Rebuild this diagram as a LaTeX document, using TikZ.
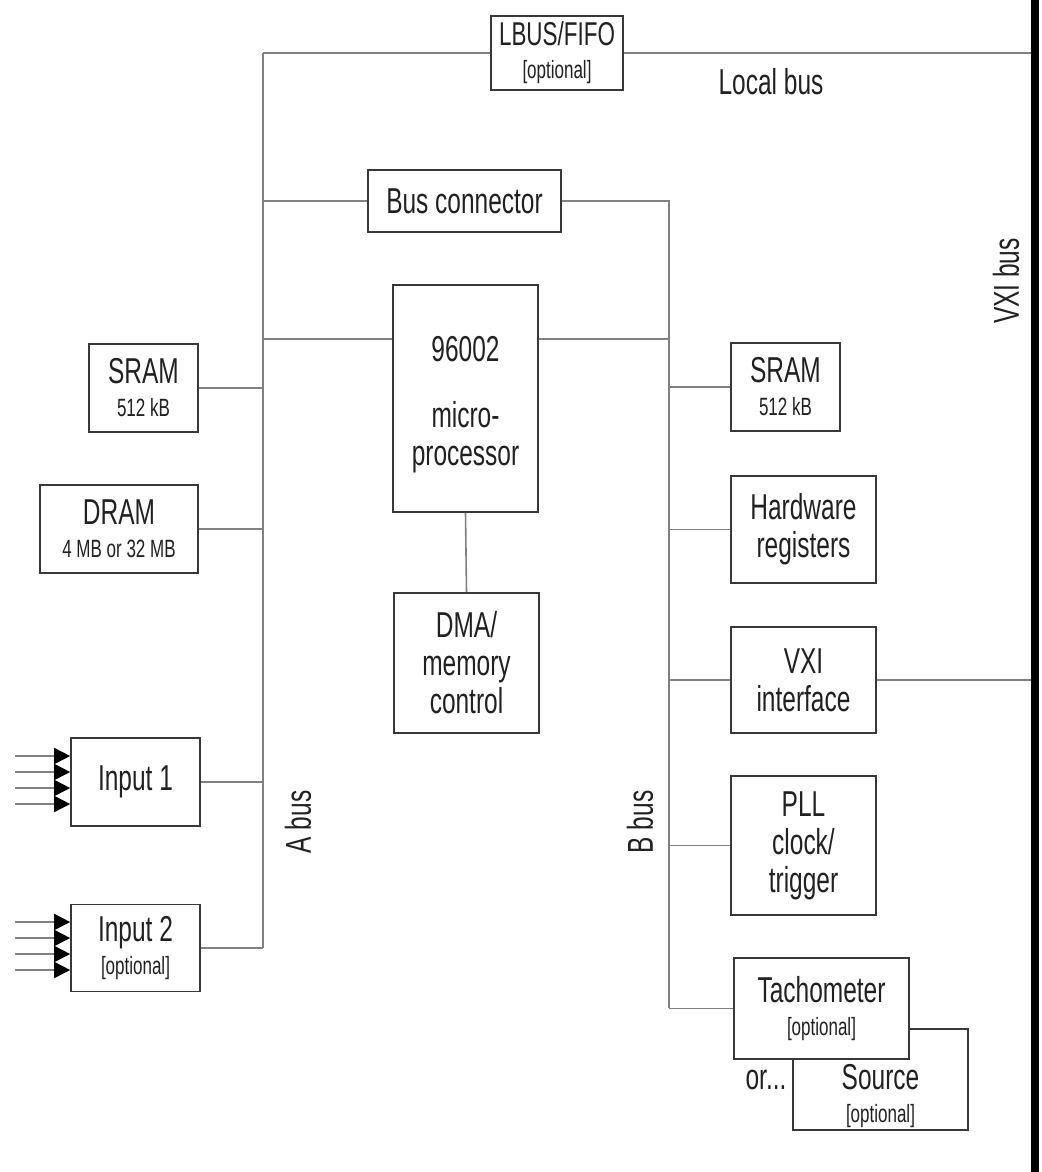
\documentclass[tikz,border=0pt]{standalone}
\usepackage{fontspec}
\setmainfont{Liberation Sans}[FakeStretch=0.68]
\usetikzlibrary{calc,arrows.meta}
\definecolor{busgray}{gray}{0.5}
\definecolor{boxgray}{gray}{0.22}
\definecolor{txtgray}{gray}{0.13}
\newcommand{\bigtxt}{\fontsize{36}{38}\selectfont}
\newcommand{\smalltxt}{\fontsize{25}{28}\selectfont}

\begin{document}
\begin{tikzpicture}[
    x=1pt,y=-1pt,
    font=\bigtxt,
    text=txtgray
  ]
\useasboundingbox (0,0) rectangle (1041,1172);

\tikzstyle{box}=[draw=boxgray,line width=1.6pt,fill=white,inner sep=0pt,align=center];
\tikzstyle{bus}=[draw=busgray,line width=1.6pt];
\tikzstyle{inarrow}=[bus,-{Triangle[length=16pt,width=16pt,color=black]}];

% bus ends
\coordinate (atop) at (263,53);
\coordinate (abot) at (263,948);
\coordinate (bbot) at (669,1008);
\coordinate (vtop) at (1035,0);
\coordinate (vbot) at (1035,1172);
\coordinate (mtap) at (0,339);

\node[box,minimum width=132,minimum height=74,font=\fontsize{33}{36}\selectfont] at (557,53) (lbus) {LBUS/FIFO\\[-3pt]{\smalltxt [optional]}};
\node[box,minimum width=193,minimum height=62] at (464.5,201) (busconn) {Bus connector};
\node[box,minimum width=145,minimum height=227] at (465.5,398.5) (micro) {\mbox{}\\[0pt]96002\\[28pt]micro-\\processor};
\node[box,minimum width=145,minimum height=140] at (466.5,663) (dma) {DMA/\\memory\\control};

\node[box,minimum width=109,minimum height=88] at (143.5,388) (sramA) {SRAM\\[-5pt]{\smalltxt 512 kB}};
\node[box,minimum width=158,minimum height=88] at (119,529) (dram) {DRAM\\[-5pt]{\smalltxt 4 MB or 32 MB}};
\node[box,minimum width=129,minimum height=88] at (135.5,782) (in1) {Input 1};
\node[box,minimum width=129,minimum height=87] at (135.5,948) (in2) {Input 2\\[-5pt]{\smalltxt [optional]}};

\node[box,minimum width=109,minimum height=88] at (785.5,387) (sramB) {SRAM\\[-5pt]{\smalltxt 512 kB}};
\node[box,minimum width=145,minimum height=107] at (803.5,529.5) (hw) {Hardware\\registers};
\node[box,minimum width=145,minimum height=106] at (803.5,680) (vxiif) {VXI\\interface};
\node[box,minimum width=145,minimum height=139] at (803.5,845.5) (pll) {PLL\\clock/\\trigger};
\node[box,minimum width=175,minimum height=101] at (880.5,1079.5) (source) {};
\node[align=center] at (880.5,1096) (srctext) {Source\\[-5pt]{\smalltxt [optional]}};
\node[box,minimum width=175,minimum height=101] at (821.5,1008.5) (tacho) {Tachometer\\[-5pt]{\smalltxt [optional]}};
\node at (766,1080) (or) {or...};

\node at (771,82) (lbuslabel) {Local bus};
\node[rotate=90] at (298,822) (abuslabel) {A bus};
\node[rotate=90] at (640,822) (bbuslabel) {B bus};
\node[rotate=90] at (1006,281) (vxilabel) {VXI bus};

% A bus
\draw[bus] (atop) -- (abot);
\draw[bus] (atop) -- (lbus.west);
\draw[bus] (lbus.east) -- (lbus.east -| vtop);
\draw[bus] (atop |- busconn.west) -- (busconn.west);
\draw[bus] (atop |- mtap) -- (micro.west |- mtap);
\foreach \n in {sramA,dram,in1,in2}
  \draw[bus] (\n.east) -- (\n.east -| atop);

% B bus
\draw[bus] (busconn.east) -| (bbot);
\draw[bus] (micro.east |- mtap) -- (bbot |- mtap);
\foreach \n in {sramB,hw,vxiif,pll,tacho}
  \draw[bus] (\n.west) -- (\n.west -| bbot);

\draw[bus] (micro.south) -- (dma.north);
\draw[bus] (vxiif.east) -- (vxiif.east -| vtop);

\foreach \n in {in1,in2}
  \foreach \d in {-26,-10,6,22}
    \draw[inarrow] ($(\n.west)+(-55,\d)$) -- ($(\n.west)+(0,\d)$);

% VXI bus
\draw[line width=8pt,black] (vtop) -- (vbot);

\end{tikzpicture}
\end{document}
